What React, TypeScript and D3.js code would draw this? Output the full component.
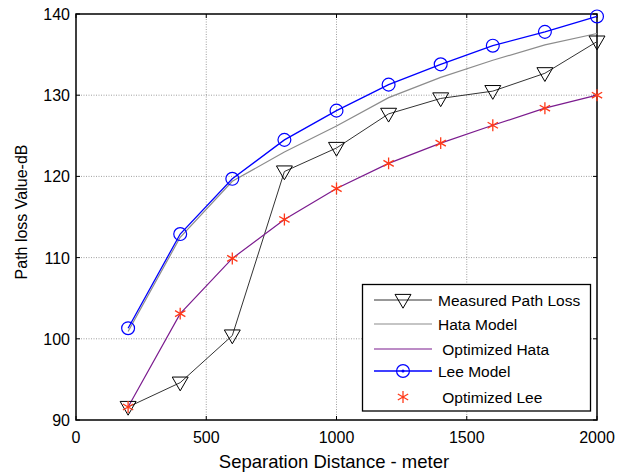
import React, { useRef, useEffect } from 'react';
import * as d3 from 'd3';

// separation distance (m)
const distances = [200, 400, 600, 800, 1000, 1200, 1400, 1600, 1800, 2000];
const measured = [91.6, 94.6, 100.4, 120.6, 123.5, 127.7, 129.6, 130.5, 132.7, 136.6];
const hata = [100.9, 112.5, 119.4, 123.0, 126.2, 129.7, 132.2, 134.3, 136.2, 137.6];
const optHata = [91.6, 103.1, 109.9, 114.7, 118.5, 121.6, 124.1, 126.3, 128.4, 130.0];
const lee = [101.3, 112.9, 119.7, 124.5, 128.1, 131.3, 133.8, 136.1, 137.8, 139.7];
const optLee = [91.6, 103.1, 109.9, 114.7, 118.5, 121.6, 124.1, 126.3, 128.4, 130.0];

const xTicks = [0, 500, 1000, 1500, 2000];
const yTicks = [90, 100, 110, 120, 130, 140];

const legendNames = ['Measured Path Loss', 'Hata Model', ' Optimized Hata', 'Lee Model', ' Optimized Lee'];

const font = 'Liberation Sans, Arial, sans-serif';

const App = () => {
  const svgRef = useRef<SVGSVGElement>(null);

  useEffect(() => {
    const svg = d3.select(svgRef.current);
    svg.selectAll('*').remove();

    const width = 618;
    const height = 472;
    const margin = { top: 14, right: 21, bottom: 52, left: 76 };

    const x = d3.scaleLinear().domain([0, 2000]).range([margin.left, width - margin.right]);
    const y = d3.scaleLinear().domain([90, 140]).range([height - margin.bottom, margin.top]);

    svg.append('rect').attr('width', width).attr('height', height).attr('fill', '#fff');

    // grid
    const grid = svg.append('g').attr('stroke', '#888').attr('stroke-width', 0.8).attr('stroke-dasharray', '1,1.5');
    grid.selectAll('line.gx').data(xTicks.slice(1, -1)).join('line')
      .attr('x1', d => x(d)).attr('x2', d => x(d))
      .attr('y1', y(90)).attr('y2', y(140));
    grid.selectAll('line.gy').data(yTicks.slice(1, -1)).join('line')
      .attr('class', 'gy')
      .attr('x1', x(0)).attr('x2', x(2000))
      .attr('y1', d => y(d)).attr('y2', d => y(d));

    // box
    svg.append('rect')
      .attr('x', x(0)).attr('y', y(140))
      .attr('width', x(2000) - x(0)).attr('height', y(90) - y(140))
      .attr('fill', 'none').attr('stroke', '#000').attr('stroke-width', 1.5);

    // ticks (inward, all sides)
    const tk = svg.append('g').attr('stroke', '#000').attr('stroke-width', 1);
    xTicks.forEach(t => {
      tk.append('line').attr('x1', x(t)).attr('x2', x(t)).attr('y1', y(90)).attr('y2', y(90) - 4);
      tk.append('line').attr('x1', x(t)).attr('x2', x(t)).attr('y1', y(140)).attr('y2', y(140) + 4);
    });
    yTicks.forEach(t => {
      tk.append('line').attr('x1', x(0)).attr('x2', x(0) + 4).attr('y1', y(t)).attr('y2', y(t));
      tk.append('line').attr('x1', x(2000)).attr('x2', x(2000) - 4).attr('y1', y(t)).attr('y2', y(t));
    });

    // tick labels
    svg.append('g').selectAll('text').data(xTicks).join('text')
      .attr('x', d => x(d)).attr('y', y(90) + 23)
      .attr('text-anchor', 'middle')
      .style('font-family', font).style('font-size', '16px')
      .text(d => d);
    svg.append('g').selectAll('text').data(yTicks).join('text')
      .attr('x', x(0) - 6).attr('y', d => y(d) + 6)
      .attr('text-anchor', 'end')
      .style('font-family', font).style('font-size', '16px')
      .text(d => d);

    // axis labels
    svg.append('text')
      .attr('x', 334).attr('y', 468)
      .attr('text-anchor', 'middle')
      .style('font-family', font).style('font-size', '18.5px')
      .text('Separation Distance - meter');
    svg.append('text')
      .attr('transform', `translate(26.5,212) rotate(-90)`)
      .attr('text-anchor', 'middle')
      .style('font-family', font).style('font-size', '16px')
      .text('Path loss Value-dB');

    const line = d3.line<number>().x((d, i) => x(distances[i])).y(d => y(d));

    const tri = d3.symbol().type(d3.symbolTriangle).size(110);
    const circ = d3.symbol().type(d3.symbolCircle).size(130);
    const star = d3.symbol().type(d3.symbolAsterisk).size(100);

    const plot = svg.append('g');
    plot.append('path').datum(hata).attr('d', line).attr('fill', 'none').attr('stroke', '#8c8c8c').attr('stroke-width', 1.2);
    plot.append('path').datum(measured).attr('d', line).attr('fill', 'none').attr('stroke', '#333').attr('stroke-width', 1);
    plot.append('path').datum(optHata).attr('d', line).attr('fill', 'none').attr('stroke', '#7b1b8e').attr('stroke-width', 1.2);
    plot.append('path').datum(lee).attr('d', line).attr('fill', 'none').attr('stroke', '#0000ff').attr('stroke-width', 1.3);

    plot.selectAll('path.tri').data(measured).join('path')
      .attr('class', 'tri')
      .attr('d', tri)
      .attr('transform', (d, i) => `translate(${x(distances[i])},${y(d) - 1}) rotate(180)`)
      .attr('fill', 'none').attr('stroke', '#000').attr('stroke-width', 1);
    plot.selectAll('path.circ').data(lee).join('path')
      .attr('class', 'circ')
      .attr('d', circ)
      .attr('transform', (d, i) => `translate(${x(distances[i])},${y(d)})`)
      .attr('fill', 'none').attr('stroke', '#0000ff').attr('stroke-width', 1.2);
    plot.selectAll('path.star').data(optLee).join('path')
      .attr('class', 'star')
      .attr('d', star)
      .attr('transform', (d, i) => `translate(${x(distances[i])},${y(d)})`)
      .attr('fill', 'none').attr('stroke', '#ff3a1a').attr('stroke-width', 1.3);

    // legend
    const lg = svg.append('g');
    lg.append('rect')
      .attr('x', 362.5).attr('y', 284.5).attr('width', 228).attr('height', 126.5)
      .attr('fill', '#fff').attr('stroke', '#000').attr('stroke-width', 1.3);
    const rowY = [300, 324, 349, 371, 397];
    legendNames.forEach((name, i) => {
      const ry = rowY[i];
      const g = lg.append('g');
      if (i === 0) {
        g.append('line').attr('x1', 374).attr('x2', 432).attr('y1', ry).attr('y2', ry).attr('stroke', '#333').attr('stroke-width', 1);
        g.append('path').attr('d', tri).attr('transform', `translate(403,${ry - 1}) rotate(180)`).attr('fill', 'none').attr('stroke', '#000');
      } else if (i === 1) {
        g.append('line').attr('x1', 374).attr('x2', 432).attr('y1', ry).attr('y2', ry).attr('stroke', '#8c8c8c').attr('stroke-width', 1.2);
      } else if (i === 2) {
        g.append('line').attr('x1', 374).attr('x2', 432).attr('y1', ry).attr('y2', ry).attr('stroke', '#7b1b8e').attr('stroke-width', 1.2);
      } else if (i === 3) {
        g.append('line').attr('x1', 374).attr('x2', 432).attr('y1', ry).attr('y2', ry).attr('stroke', '#0000ff').attr('stroke-width', 1.3);
        g.append('path').attr('d', circ).attr('transform', `translate(403,${ry})`).attr('fill', 'none').attr('stroke', '#0000ff').attr('stroke-width', 1.2);
        g.append('circle').attr('cx', 403).attr('cy', ry).attr('r', 1.5).attr('fill', '#0000ff');
      } else {
        g.append('path').attr('d', star).attr('transform', `translate(403,${ry})`).attr('fill', 'none').attr('stroke', '#ff3a1a').attr('stroke-width', 1.3);
      }
      g.append('text')
        .attr('x', 438).attr('y', ry + 5.5)
        .attr('xml:space', 'preserve')
        .style('white-space', 'pre')
        .style('font-family', font).style('font-size', '15.5px')
        .text(name);
    });
  }, []);

  return (
    <svg ref={svgRef} width={618} height={472} style={{ position: 'absolute', left: 0, top: 0 }} />
  );
};

export default App;
